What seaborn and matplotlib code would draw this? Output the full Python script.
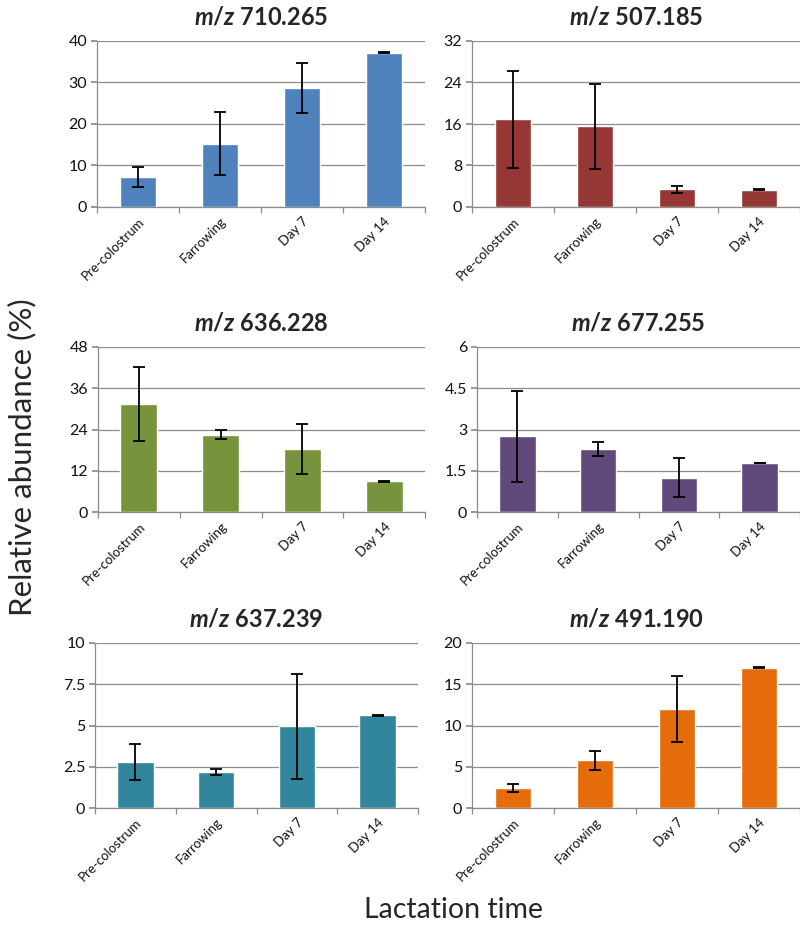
import matplotlib
matplotlib.use("Agg")
import matplotlib.pyplot as plt
import seaborn as sns
import pandas as pd
import numpy as np
from matplotlib.ticker import FixedLocator, FuncFormatter

sns.set_theme(style="white")
plt.rcParams['font.family'] = ['Lato', 'DejaVu Sans']
plt.rcParams['mathtext.fontset'] = 'custom'
plt.rcParams['mathtext.rm'] = 'Lato:bold'
plt.rcParams['mathtext.it'] = 'Lato:italic:bold'
plt.rcParams['mathtext.bf'] = 'Lato:bold'

categories = ["Pre-colostrum", "Farrowing", "Day 7", "Day 14"]

titles = ["710.265", "507.185", "636.228", "677.255", "637.239", "491.190"]

mz710_mean = [7.2, 15.3, 28.6, 37.2]
mz710_err = [2.4, 7.5, 6.0, 0.1]
mz507_mean = [16.9, 15.6, 3.4, 3.36]
mz507_err = [9.3, 8.2, 0.7, 0.08]
mz636_mean = [31.5, 22.5, 18.4, 8.9]
mz636_err = [10.8, 1.4, 7.2, 0.2]
mz677_mean = [2.75, 2.29, 1.25, 1.79]
mz677_err = [1.65, 0.25, 0.7, 0.01]
mz637_mean = [2.8, 2.17, 4.95, 5.61]
mz637_err = [1.1, 0.2, 3.2, 0.02]
mz491_mean = [2.45, 5.8, 12.0, 17.0]
mz491_err = [0.45, 1.15, 4.0, 0.05]

yticks = [
    [0, 10, 20, 30, 40],
    [0, 8, 16, 24, 32],
    [0, 12, 24, 36, 48],
    [0, 1.5, 3, 4.5, 6],
    [0, 2.5, 5, 7.5, 10],
    [0, 5, 10, 15, 20],
]

colors = ["#4F81BD", "#953735", "#77933C", "#604A7B", "#31859C", "#E46C0A"]

means = [mz710_mean, mz507_mean, mz636_mean, mz677_mean, mz637_mean, mz491_mean]
errs = [mz710_err, mz507_err, mz636_err, mz677_err, mz637_err, mz491_err]

W, H = 800, 925
fig = plt.figure(figsize=(W / 100, H / 100), dpi=100)

# axes boxes in pixels: left, right, top, bottom
boxes = [
    (97, 425, 41, 207),
    (472, 800, 41, 207),
    (98, 425, 347, 512),
    (477, 800, 347, 512),
    (95, 418, 643, 808),
    (472, 800, 643, 808),
]

grid_col = "#8C8C8C"

for i in range(6):
    l, r, t, b = boxes[i]
    ax = fig.add_axes([l / W, 1 - b / H, (r - l) / W, (b - t) / H])
    df = pd.DataFrame({"time": categories, "value": means[i]})
    sns.barplot(data=df, x="time", y="value", color=colors[i], width=0.45,
                saturation=1, ax=ax, errorbar=None, zorder=3)
    xs = [p.get_x() + p.get_width() / 2 for p in ax.patches]
    ax.errorbar(xs, means[i], yerr=errs[i], fmt="none", ecolor="black",
                elinewidth=1.3, capsize=4, capthick=1.3, zorder=4)
    ax.set_xlim(-0.5, 3.5)
    ax.set_ylim(0, yticks[i][-1])
    ax.yaxis.set_major_locator(FixedLocator(yticks[i]))
    ax.yaxis.set_major_formatter(FuncFormatter(lambda v, p: f"{v:g}"))
    ax.grid(axis="y", color=grid_col, linewidth=0.9, zorder=0)
    ax.set_axisbelow(True)
    for s in ["top", "right"]:
        ax.spines[s].set_visible(False)
    for s in ["left", "bottom"]:
        ax.spines[s].set_color(grid_col)
        ax.spines[s].set_linewidth(0.9)
    ax.set_xlabel("")
    ax.set_ylabel("")
    ax.tick_params(axis="y", which="major", length=4, color=grid_col,
                   labelsize=11.5, pad=3, left=True, labelcolor="#111111")
    ax.tick_params(axis="x", which="major", length=0, labelsize=9.5,
                   pad=6, labelcolor="#111111")
    ax.set_xticks(np.arange(-0.5, 4, 1), minor=True)
    ax.tick_params(axis="x", which="minor", length=4, color=grid_col,
                   bottom=True, width=0.9)
    for lab in ax.get_xticklabels():
        lab.set_rotation(45)
        lab.set_ha("right")
        lab.set_rotation_mode("anchor")
    ax.set_title(r"$\mathit{m/z}$ " + titles[i], fontsize=17,
                 fontweight="bold", pad=12)

fig.text(22 / W, 1 - 457 / H, "Relative abundance (%)", rotation=90,
         fontsize=22.5, ha="center", va="center")
fig.text(454 / W, 1 - 910 / H, "Lactation time", fontsize=20.5,
         ha="center", va="center")

fig.savefig("out.png", dpi=100)
